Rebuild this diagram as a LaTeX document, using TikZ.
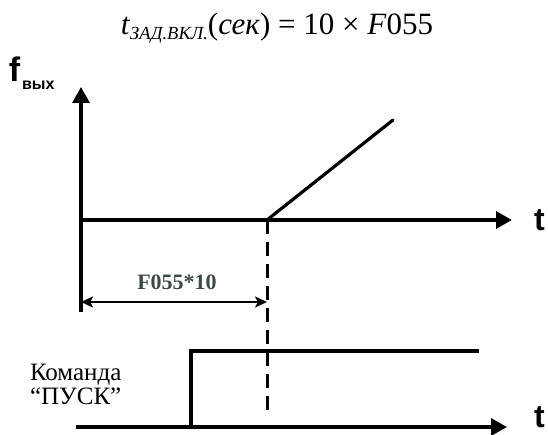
\documentclass[tikz,border=0pt]{standalone}
\usepackage{fontspec}
\setmainfont{Liberation Serif}
\newfontfamily\sansf{Liberation Sans}
\usetikzlibrary{arrows.meta}
\definecolor{dimtext}{RGB}{60,72,72}
\begin{document}
\begin{tikzpicture}[x=1pt,y=-1pt,
  axis/.style={line width=3.3pt,-{Triangle[length=16pt,width=17pt]}},
  plotline/.style={line width=3.2pt,line cap=round},
  dashline/.style={line width=3pt,dash pattern=on 14pt off 8pt},
  dimline/.style={line width=2.2pt,{Stealth[length=12pt,width=11pt,inset=3pt]}-{Stealth[length=12pt,width=11pt,inset=3pt]}},
  lbl/.style={inner sep=0pt,outer sep=0pt}]
\useasboundingbox (0,0) rectangle (548,435);
% title
\node[lbl,anchor=base] (title) at (277,35) {\fontsize{31}{31}\selectfont\textit{t}\raisebox{-5pt}{\fontsize{18.5}{18.5}\selectfont\textit{ЗАД.ВКЛ.}}(\textit{сек})\ =\ 10\ ×\ \textit{F}055};
% y label
\node[lbl,anchor=base west] (fy) at (9,82) {\sansf\bfseries\fontsize{34}{34}\selectfont f};
\node[lbl,anchor=base west] (fysub) at (22,90) {\sansf\bfseries\fontsize{16}{16}\selectfont вых};
% coordinates
\coordinate (o) at (81,220);
\coordinate (ytop) at (81,87);
\coordinate (ybot) at (81,312);
\coordinate (xtip) at (512,220);
\coordinate (r0) at (267,220);
\coordinate (r1) at (393,120);
\coordinate (d0) at (267,220);
\coordinate (d1) at (267,417);
\coordinate (dl) at (81,302);
\coordinate (dr) at (267,302);
\coordinate (b0) at (76,427);
\coordinate (btip) at (507,427);
\coordinate (s0) at (191,427);
\coordinate (s1) at (191,351);
\coordinate (s2) at (479,351);
% axes
\draw[axis] (ybot) -- (ytop);
\draw[axis] (o) -- (xtip);
\draw[axis] (b0) -- (btip);
\node[lbl,anchor=base west] (tlab1) at (534,231) {\sansf\bfseries\fontsize{32}{32}\selectfont t};
\node[lbl,anchor=base west] (tlab2) at (534,427) {\sansf\bfseries\fontsize{32}{32}\selectfont t};
% ramp
\draw[plotline] (r0) -- (r1);
% dashed
\draw[dashline] (d0) -- (d1);
% dimension
\draw[dimline] (dl) -- (dr);
\node[lbl,anchor=base,text=dimtext] (dimtxt) at (177,290) {\bfseries\fontsize{22}{22}\selectfont F055*10};
% step
\draw[plotline,line cap=butt,line join=miter] (s0) -- (s1) -- (s2);
% command label
\node[lbl,anchor=base west] (cmd1) at (30,380) {\fontsize{25}{25}\selectfont Команда};
\node[lbl,anchor=base west] (cmd2) at (30,404) {\fontsize{25}{25}\selectfont “ПУСК”};
\end{tikzpicture}
\end{document}
